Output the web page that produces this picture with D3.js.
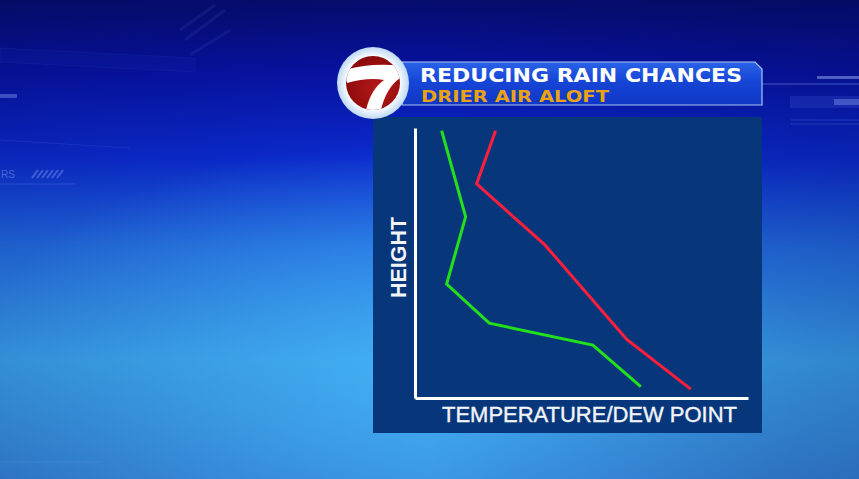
<!DOCTYPE html>
<html lang="en">
<head>
  <meta charset="UTF-8">
  <script src="https://cdn.jsdelivr.net/npm/d3@7"></script>
  <title>Reducing Rain Chances</title>
  <style>
    body { margin: 0; overflow: hidden; background: #0a2ad0; }
  </style>
</head>
<body>
  <div id="chart"></div>
<script>
// sounding (arbitrary units 0-100)
var dewTemp   = [8.0, 15.2, 9.5, 22.3, 53.4, 67.8];
var dewHeight = [99.0, 67.1, 42.2, 27.7, 19.6, 4.2];
var airTemp   = [24.2, 18.5, 39.0, 63.6, 82.8];
var airHeight = [99.0, 79.3, 56.7, 21.7, 3.3];

var title = "REDUCING RAIN CHANCES";
var subtitle = "DRIER AIR ALOFT";
var xLabel = "TEMPERATURE/DEW POINT";
var yLabel = "HEIGHT";

var W = 859, H = 479;
var origin = { x: 415, y: 398 };

var svg = d3.select("#chart").append("svg")
    .attr("width", W)
    .attr("height", H);

var defs = svg.append("defs");

// background gradient
var bg = defs.append("linearGradient").attr("id", "bg")
    .attr("x1", 0).attr("y1", 0).attr("x2", 0).attr("y2", 1);
bg.append("stop").attr("offset", "0%").attr("stop-color", "#050c6c");
bg.append("stop").attr("offset", "15%").attr("stop-color", "#0712a2");
bg.append("stop").attr("offset", "33%").attr("stop-color", "#0b2bd0");
bg.append("stop").attr("offset", "52%").attr("stop-color", "#2470e4");
bg.append("stop").attr("offset", "75%").attr("stop-color", "#3ca6f0");
bg.append("stop").attr("offset", "100%").attr("stop-color", "#3686da");

var glow = defs.append("radialGradient").attr("id", "glow")
    .attr("cx", "0.45").attr("cy", "0.8").attr("r", "0.5");
glow.append("stop").attr("offset", "0%").attr("stop-color", "#46b8f8").attr("stop-opacity", 0.6);
glow.append("stop").attr("offset", "100%").attr("stop-color", "#46b8f8").attr("stop-opacity", 0);

var shade = defs.append("linearGradient").attr("id", "shade")
    .attr("x1", 0).attr("y1", 0).attr("x2", 1).attr("y2", 0);
shade.append("stop").attr("offset", "0%").attr("stop-color", "#000840").attr("stop-opacity", 0.15);
shade.append("stop").attr("offset", "50%").attr("stop-color", "#000840").attr("stop-opacity", 0);
shade.append("stop").attr("offset", "100%").attr("stop-color", "#000840").attr("stop-opacity", 0.2);

var banner = defs.append("linearGradient").attr("id", "banner")
    .attr("x1", 0).attr("y1", 0).attr("x2", 0).attr("y2", 1);
banner.append("stop").attr("offset", "0%").attr("stop-color", "#2a62e8");
banner.append("stop").attr("offset", "45%").attr("stop-color", "#1645d6");
banner.append("stop").attr("offset", "100%").attr("stop-color", "#0f36c4");

var ring = defs.append("radialGradient").attr("id", "ring");
ring.append("stop").attr("offset", "72%").attr("stop-color", "#ffffff");
ring.append("stop").attr("offset", "100%").attr("stop-color", "#bcd8f4");

var red = defs.append("radialGradient").attr("id", "red")
    .attr("cx", "0.6").attr("cy", "0.6").attr("r", "0.7");
red.append("stop").attr("offset", "0%").attr("stop-color", "#b81a1a");
red.append("stop").attr("offset", "100%").attr("stop-color", "#850808");

defs.append("clipPath").attr("id", "logoClip")
  .append("circle").attr("cx", 373).attr("cy", 83).attr("r", 27);

svg.append("rect").attr("width", W).attr("height", H).attr("fill", "url(#bg)");
svg.append("rect").attr("width", W).attr("height", H).attr("fill", "url(#glow)");
svg.append("rect").attr("width", W).attr("height", H).attr("fill", "url(#shade)");

// faint decoration in the background
var deco = svg.append("g").attr("fill", "none").attr("stroke", "#8fb4ff");
deco.append("path").attr("d", "M0,48 L195,58 L195,72 L0,62 Z").attr("stroke-opacity", 0.06).attr("fill", "#3a5cff").attr("fill-opacity", 0.05);
deco.append("path").attr("d", "M0,140 L130,148").attr("stroke-opacity", 0.1);
deco.append("path").attr("d", "M0,184 L75,184").attr("stroke-opacity", 0.18);
deco.append("path").attr("d", "M0,462 L100,462").attr("stroke-opacity", 0.12);
deco.append("path").attr("d", "M180,30 L215,5 M185,40 L225,10 M190,55 L230,30").attr("stroke-opacity", 0.08).attr("stroke-width", 3);
deco.append("path").attr("d", "M762,84 L859,84").attr("stroke-opacity", 0.45);
deco.append("path").attr("d", "M791,120 L859,120 M791,124 L859,124").attr("stroke-opacity", 0.2);
svg.append("rect").attr("x", 0).attr("y", 94).attr("width", 17).attr("height", 4).attr("fill", "#9fb8ff").attr("opacity", 0.35);
svg.append("rect").attr("x", 817).attr("y", 76).attr("width", 42).attr("height", 3).attr("fill", "#a8c0ff").attr("opacity", 0.45);
svg.append("rect").attr("x", 790).attr("y", 96).attr("width", 69).attr("height", 12).attr("fill", "#6a86ff").attr("opacity", 0.15);
svg.append("rect").attr("x", 834).attr("y", 99).attr("width", 25).attr("height", 6).attr("fill", "#a8c0ff").attr("opacity", 0.3);
svg.append("text").attr("x", 1).attr("y", 178).text("RS")
    .attr("font-family", "Liberation Sans").attr("font-size", 10)
    .attr("fill", "#9fb8ff").attr("opacity", 0.4);
svg.append("g").attr("stroke", "#9fb8ff").attr("stroke-opacity", 0.35).attr("stroke-width", 2)
  .selectAll("line").data(d3.range(6)).enter().append("line")
    .attr("x1", d => 32 + d * 5).attr("y1", 178)
    .attr("x2", d => 38 + d * 5).attr("y2", 170);

// chart panel
svg.append("rect")
    .attr("x", 373).attr("y", 117)
    .attr("width", 389).attr("height", 316)
    .attr("fill", "#07377a");

// title banner
svg.append("path")
    .attr("d", "M402,62 L755,62 L762,69 L762,105 L402,105 Z")
    .attr("fill", "url(#banner)")
    .attr("stroke", "#a9c6f2")
    .attr("stroke-width", 1.2);

svg.append("text")
    .attr("x", 420).attr("y", 82)
    .attr("textLength", 322).attr("lengthAdjust", "spacingAndGlyphs")
    .attr("font-family", "DejaVu Sans").attr("font-weight", "bold")
    .attr("font-size", 19).attr("fill", "#ffffff")
    .text(title);

svg.append("text")
    .attr("x", 421).attr("y", 101.5)
    .attr("textLength", 188).attr("lengthAdjust", "spacingAndGlyphs")
    .attr("font-family", "DejaVu Sans").attr("font-weight", "bold")
    .attr("font-size", 16).attr("fill", "#e9a313")
    .text(subtitle);

// logo
svg.append("circle").attr("cx", 373).attr("cy", 83).attr("r", 36).attr("fill", "url(#ring)");
svg.append("circle").attr("cx", 373).attr("cy", 83).attr("r", 27).attr("fill", "url(#red)");
svg.append("path")
    .attr("clip-path", "url(#logoClip)")
    .attr("d", "M344,70 Q372,62 403,66 L400,78 Q386,88 381,110 L366,110 Q371,89 384,80 Q368,77 347,83 Z")
    .attr("fill", "#ffffff");

// scales
var x = d3.scaleLinear().domain([0, 100]).range([origin.x, 748]);
var y = d3.scaleLinear().domain([0, 100]).range([origin.y, 128]);

// axes, drawn as plain lines without ticks
var xAxis = d3.axisBottom(x).tickValues([]).tickSizeOuter(0);
var yAxis = d3.axisLeft(y).tickValues([]).tickSizeOuter(0);
svg.append("g").attr("transform", "translate(0," + origin.y + ")").call(xAxis)
  .select(".domain").attr("stroke", "#ffffff").attr("stroke-width", 3);
svg.append("g").attr("transform", "translate(" + origin.x + ",0)").call(yAxis)
  .select(".domain").attr("stroke", "#ffffff").attr("stroke-width", 3);

var line = d3.line()
    .x(d => x(d[0]))
    .y(d => y(d[1]));

svg.append("path")
    .datum(d3.zip(dewTemp, dewHeight))
    .attr("d", line)
    .attr("fill", "none")
    .attr("stroke", "#22e01c")
    .attr("stroke-width", 3);

svg.append("path")
    .datum(d3.zip(airTemp, airHeight))
    .attr("d", line)
    .attr("fill", "none")
    .attr("stroke", "#ff1f3c")
    .attr("stroke-width", 3);

// axis labels
svg.append("text")
    .attr("x", 442).attr("y", 422)
    .attr("textLength", 295).attr("lengthAdjust", "spacingAndGlyphs")
    .attr("font-family", "Liberation Sans")
    .attr("font-size", 22).attr("fill", "#f2f4f8")
    .attr("stroke", "#f2f4f8").attr("stroke-width", 0.4)
    .text(xLabel);

svg.append("text")
    .attr("transform", "translate(406,298) rotate(-90)")
    .attr("textLength", 81).attr("lengthAdjust", "spacingAndGlyphs")
    .attr("font-family", "Liberation Sans").attr("font-weight", "bold")
    .attr("font-size", 22).attr("fill", "#f2f4f8")
    .text(yLabel);
</script>
</body>
</html>
